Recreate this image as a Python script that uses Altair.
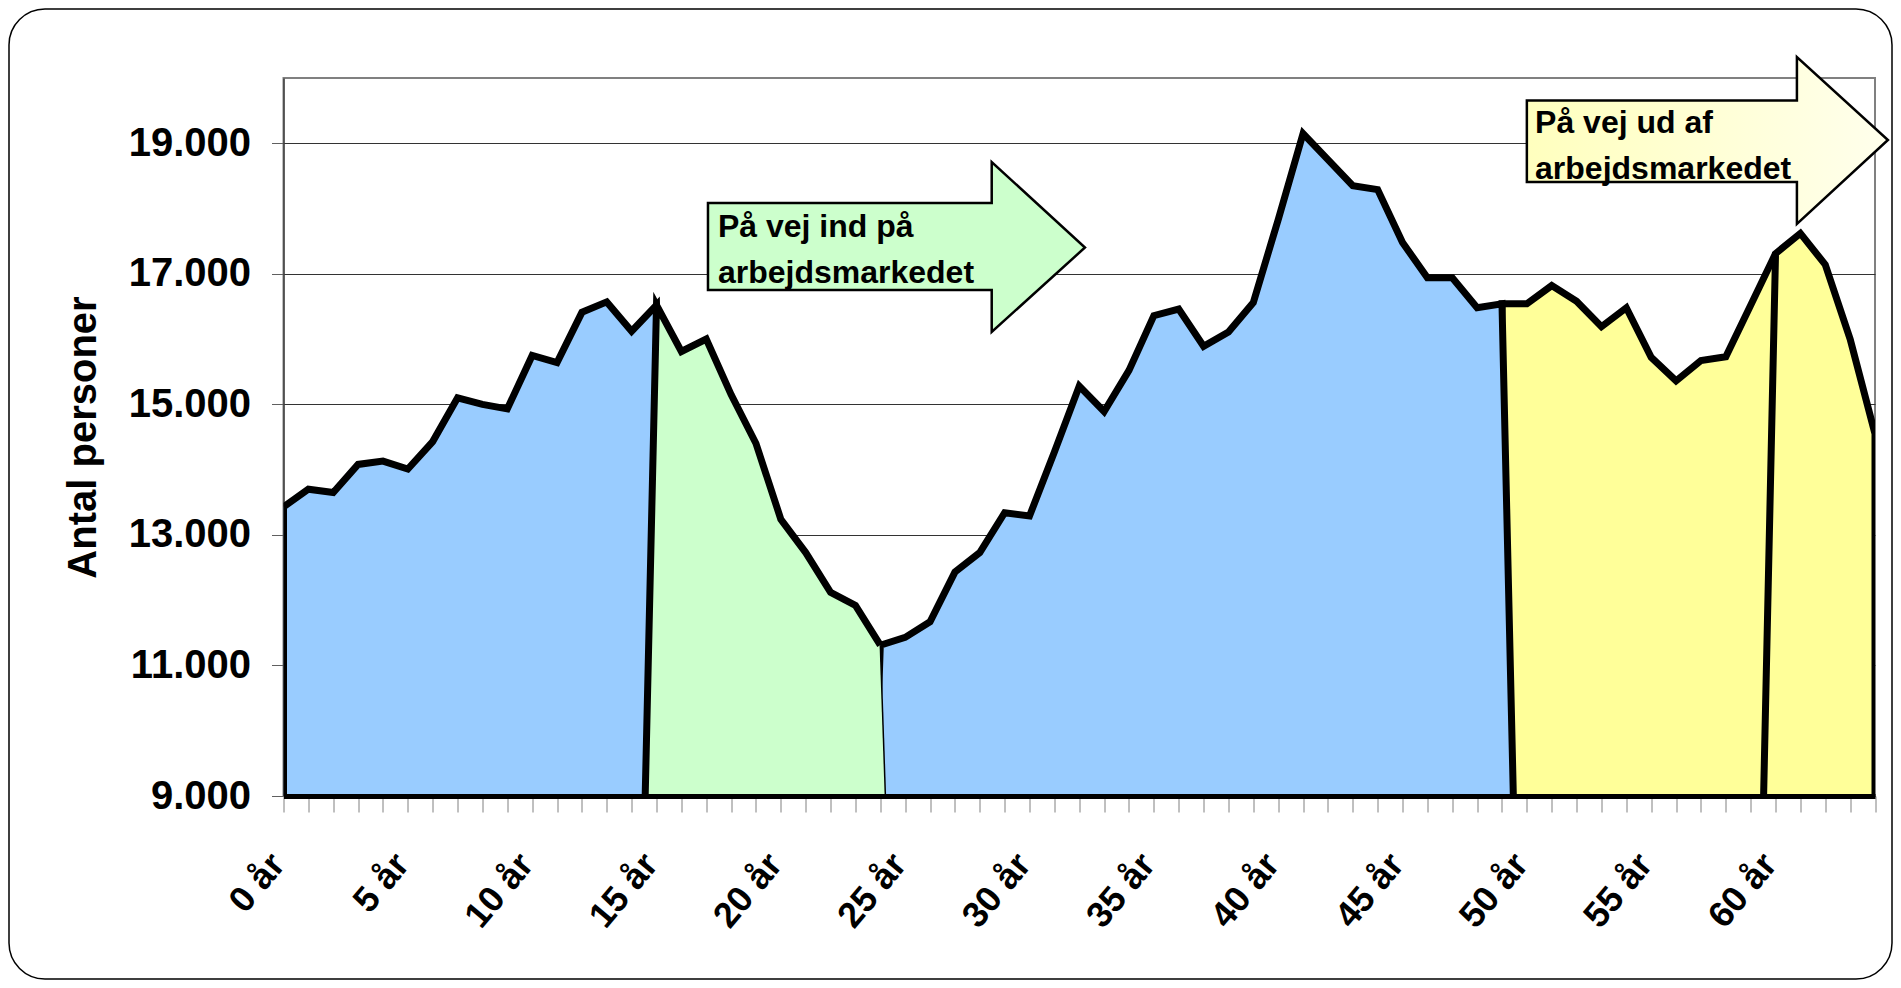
import altair as alt
import pandas as pd

# ---------------- data ----------------
ages = list(range(65))
persons = [13430, 13700, 13650, 14080, 14130, 14010, 14430, 15100, 15000, 14930,
           15750, 15640, 16410, 16570, 16120, 16520, 15810, 16000, 15150, 14400,
           13240, 12730, 12120, 11920, 11310, 11430, 11670, 12430, 12730, 13340,
           13290, 14270, 15280, 14890, 15520, 16360, 16460, 15890, 16110, 16560,
           17830, 19150, 18750, 18350, 18290, 17480, 16940, 16940, 16480, 16540,
           16540, 16820, 16580, 16190, 16480, 15720, 15360, 15670, 15730, 16520,
           17310, 17620, 17140, 16000, 14550]

segment_names = ["0-15 år", "15-24 år", "24-49 år", "49-60 år", "60-64 år"]
segment_first_age = [0, 15, 24, 49, 60]
segment_last_age = [15, 24, 49, 60, 64]
segment_draw_order = ["49-60 år", "0-15 år", "24-49 år", "15-24 år", "60-64 år"]

y_tick_values = [9000, 11000, 13000, 15000, 17000, 19000]

annotation_texts = ["På vej ind på\narbejdsmarkedet", "På vej ud af\narbejdsmarkedet"]
annotation_text_age = [17.47, 50.33]
annotation_text_persons = [17564, 19157]

# block-arrow outlines, in chart units (age, persons)
arrow_in_age = [17.07, 28.48, 28.48, 32.23]
arrow_in_top = [18085, 18085, 18713, 17403]
arrow_in_bottom = [16752, 16752, 16109, 17403]
arrow_out_age = [50.0, 60.86, 60.86, 64.52]
arrow_out_top = [19654, 19654, 20322, 19050]
arrow_out_bottom = [18407, 18407, 17763, 19050]

# ---------------- styles ----------------
FONT = "Liberation Sans"
segment_fill = {"0-15 år": "#99CCFF", "15-24 år": "#CCFFCC", "24-49 år": "#99CCFF",
                "49-60 år": "#FFFF99", "60-64 år": "#FFFF99"}
thin_trailing_edge = {"15-24 år"}

W, H = 1591.5, 718

# ---------------- tables ----------------
max_age = ages[-1]
area_tables, line_tables, thin_tables = {}, {}, {}
for name, a0, a1 in zip(segment_names, segment_first_age, segment_last_age):
    pts = [(a, persons[a]) for a in ages[a0:a1 + 1]]
    lead = (a0 - 1, 0) if a0 > 0 else (a0, 0)
    trail = (a1 + 1, 0) if a1 < max_age else (a1, 0)
    area_pts = ([lead] if a0 > 0 else []) + pts + ([trail] if a1 < max_age else [])
    area_tables[name] = pd.DataFrame(area_pts, columns=["age", "persons"])
    main = [lead] + pts
    if name in thin_trailing_edge:
        thin_tables[name] = pd.DataFrame([pts[-1], trail], columns=["age", "persons"]).assign(idx=[0, 1])
    else:
        main = main + [trail]
    line_tables[name] = pd.DataFrame(main, columns=["age", "persons"]).assign(idx=range(len(main)))

# ---------------- encodings ----------------
x_enc = alt.X("age:Q",
              scale=alt.Scale(domain=[ages[0], ages[-1]], nice=False, zero=False),
              axis=alt.Axis(values=ages, title="",
                            labelExpr="datum.value % 5 == 0 ? datum.value + ' år' : ''",
                            labelAngle=310, labelAlign="right", labelBaseline="middle",
                            labelFontSize=36, labelPadding=46, labelOffset=-6,
                            labelOverlap=False, labelFlush=False, labelBound=False,
                            tickSize=16, tickColor="#808080", tickWidth=1,
                            domainColor="black", domainWidth=5, grid=False, zindex=1))
y_enc = alt.Y("persons:Q",
              scale=alt.Scale(domain=[9000, 20000], nice=False, zero=False),
              axis=alt.Axis(values=y_tick_values, title="Antal personer",
                            labelExpr="replace(format(datum.value, ','), ',', '.')",
                            labelFontSize=40, labelPadding=21,
                            tickSize=12, tickColor="#606060",
                            domainColor="#404040", domainWidth=1.5,
                            gridColor="#333333", gridWidth=1,
                            titleFontSize=40, titleAngle=270, titleX=-188, titleY=H / 2,
                            titleAlign="center", titleBaseline="alphabetic"))

layers = []
frame = alt.Chart(pd.DataFrame({"frame": [0]})).mark_rect(
    filled=False, stroke="black", strokeWidth=1.5, cornerRadius=36
).encode(x=alt.value(-274.5), x2=alt.value(W + 17), y=alt.value(-69), y2=alt.value(H + 183))
layers.append(frame)

for name in segment_draw_order:
    layers.append(
        alt.Chart(area_tables[name]).mark_area(fill=segment_fill[name], clip=True)
        .encode(x=x_enc, y=y_enc)
    )
    layers.append(
        alt.Chart(line_tables[name]).mark_line(color="black", strokeWidth=7, strokeJoin="miter", clip=True)
        .encode(x=x_enc, y=y_enc, order=alt.Order("idx:Q"))
    )
    if name in thin_tables:
        layers.append(
            alt.Chart(thin_tables[name]).mark_line(color="black", strokeWidth=1.5, clip=True)
            .encode(x=x_enc, y=y_enc, order=alt.Order("idx:Q"))
        )

arrow_in = pd.DataFrame({"age": arrow_in_age, "persons": arrow_in_top, "persons2": arrow_in_bottom})
arrow_out = pd.DataFrame({"age": arrow_out_age, "persons": arrow_out_top, "persons2": arrow_out_bottom})
layers.append(
    alt.Chart(arrow_in).mark_area(fill="#CCFFCC", stroke="black", strokeWidth=2.5, strokeJoin="miter")
    .encode(x=x_enc, y=y_enc, y2=alt.Y2("persons2:Q"))
)
layers.append(
    alt.Chart(arrow_out).mark_area(
        fill=alt.Gradient(gradient="linear",
                          stops=[alt.GradientStop(color="#FFFFBE", offset=0),
                                 alt.GradientStop(color="#FFFFEC", offset=1)],
                          x1=0, x2=1, y1=0, y2=0),
        stroke="black", strokeWidth=2.5, strokeJoin="miter")
    .encode(x=x_enc, y=y_enc, y2=alt.Y2("persons2:Q"))
)
text_df = pd.DataFrame({"age": annotation_text_age, "persons": annotation_text_persons,
                        "label": annotation_texts})
layers.append(
    alt.Chart(text_df).mark_text(align="left", baseline="alphabetic", fontSize=32, fontWeight="bold",
                                 font=FONT, lineBreak="\n", lineHeight=46, color="black")
    .encode(x=x_enc, y=y_enc, text="label:N")
)

chart = alt.layer(*layers).properties(
    width=W, height=H,
    autosize=alt.AutoSizeParams(type="none"),
    padding={"left": 275.5, "top": 70, "right": 18, "bottom": 184},
    background="white",
).configure_axis(
    labelFont=FONT, titleFont=FONT, labelFontWeight="bold", titleFontWeight="bold",
    labelColor="black", titleColor="black",
).configure_view(stroke="#808080", strokeWidth=2)

chart.save("out.html", embed_options={"renderer": "svg", "actions": False})
